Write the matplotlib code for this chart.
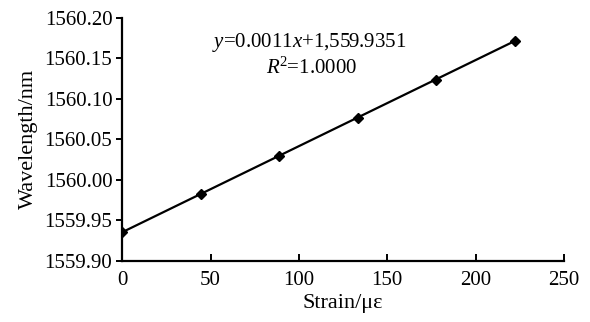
import matplotlib
matplotlib.use("Agg")
import matplotlib.pyplot as plt
import numpy as np

# strain (micro-strain) vs. Bragg wavelength
strain = [0, 44.4, 88.9, 133.3, 177.8, 222.2]
wavelength = [1559.935, 1559.983, 1560.030, 1560.077, 1560.124, 1560.172]
x_ticks = [0, 50, 100, 150, 200, 250]
y_ticks = [1559.90, 1559.95, 1560.00, 1560.05, 1560.10, 1560.15, 1560.20]

plt.rcParams['font.family'] = ['Liberation Serif', 'DejaVu Serif']
plt.rcParams['mathtext.fontset'] = 'custom'
plt.rcParams['mathtext.rm'] = 'Liberation Serif'
plt.rcParams['mathtext.it'] = 'Liberation Serif:italic'

fig = plt.figure(figsize=(5.9, 3.22), dpi=100)
ax = fig.add_axes([0.207, 0.19, 0.749, 0.754])

# linear fit line plus the measured points
k, b = np.polyfit(strain, wavelength, 1)
xs = np.array([strain[0], strain[-1]])
ax.plot(xs, k * xs + b, color='black', linewidth=1.6)
ax.plot(strain, wavelength, linestyle='none', marker='D', markersize=5.5,
        color='black')

ax.set_xlim(0, 250)
ax.set_ylim(1559.90, 1560.20)
ax.set_xticks(x_ticks)
ax.set_yticks(y_ticks)
ax.set_yticklabels([f'{v:.2f}' for v in y_ticks])
ax.spines['top'].set_visible(False)
ax.spines['right'].set_visible(False)
ax.spines['left'].set_linewidth(1.6)
ax.spines['bottom'].set_linewidth(1.6)
ax.tick_params(axis='x', direction='in', length=5, width=1.4,
               labelsize=15, pad=7)
ax.tick_params(axis='y', direction='out', length=4, width=1.4,
               labelsize=15, pad=3)

ax.set_xlabel('Strain/με', fontsize=16, labelpad=3)
ax.set_ylabel('Wavelength/nm', fontsize=16, labelpad=5)

ax.text(0.424, 0.90, r'$y$=0.0011$x$+1,559.9351', transform=ax.transAxes,
        fontsize=15, ha='center', va='center')
ax.text(0.428, 0.795, r'$R$$^2$=1.0000', transform=ax.transAxes,
        fontsize=15, ha='center', va='center')

fig.savefig('out.png', dpi=100)
